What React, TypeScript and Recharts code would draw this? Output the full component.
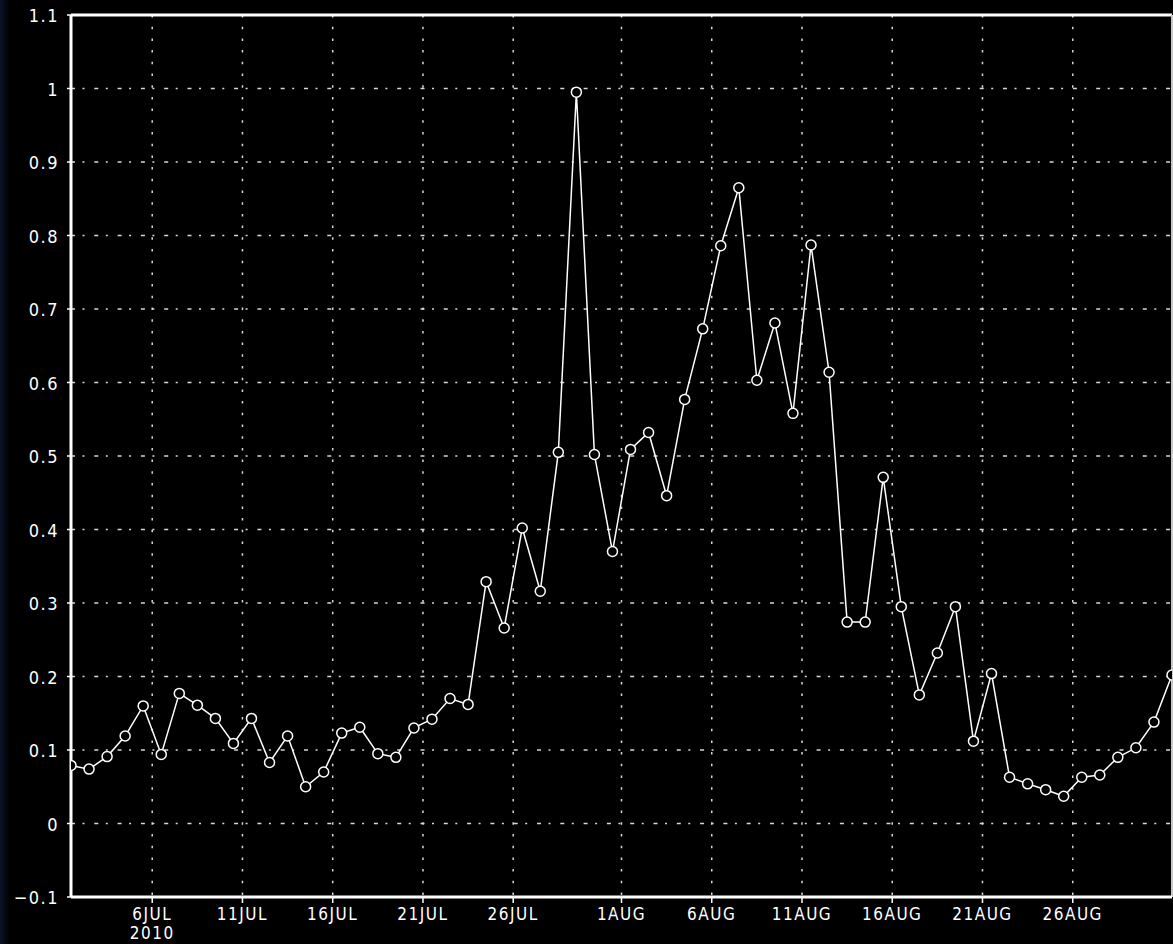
import { LineChart, Line, XAxis, YAxis, CartesianGrid, ReferenceLine } from 'recharts'

// daily values, 1 Jul 2010 .. 31 Aug 2010 (plotted at 12Z of each day)
const julyValues = [
  0.079, 0.074, 0.091, 0.119, 0.16, 0.094, 0.177, 0.161, 0.143, 0.109,
  0.143, 0.083, 0.119, 0.05, 0.07, 0.123, 0.131, 0.095, 0.09, 0.13,
  0.142, 0.17, 0.162, 0.329, 0.266, 0.402, 0.316, 0.505, 0.995, 0.502,
  0.37,
]
const augustValues = [
  0.509, 0.532, 0.446, 0.577, 0.673, 0.786, 0.865, 0.603, 0.681, 0.558,
  0.787, 0.614, 0.274, 0.274, 0.471, 0.295, 0.175, 0.232, 0.295, 0.112,
  0.204, 0.063, 0.054, 0.046, 0.037, 0.063, 0.066, 0.09, 0.103, 0.138,
  0.202,
]

// days since 1 Jul 00Z
const tickDays = [5, 10, 15, 20, 25, 31, 36, 41, 46, 51, 56]
const tickLabels = ['6JUL', '11JUL', '16JUL', '21JUL', '26JUL', '1AUG', '6AUG', '11AUG', '16AUG', '21AUG', '26AUG']
const yTicks = [-0.1, 0, 0.1, 0.2, 0.3, 0.4, 0.5, 0.6, 0.7, 0.8, 0.9, 1, 1.1]
const yearLabel = '2010'

const values = [...julyValues, ...augustValues]
const data = values.map((v, i) => ({ day: i + 0.5, value: v }))

const FONT = "'Liberation Sans Narrow', 'DejaVu Sans Condensed', sans-serif"

function YTick({ x, y, payload }: any) {
  const v = payload.value
  let label = Math.abs(v) < 1e-9 ? '0' : Math.abs(v - 1) < 1e-9 ? '1' : v.toFixed(1)
  if (v < 0) label = '\u2212' + Math.abs(v).toFixed(1)
  return (
    <text x={x} y={y} dy={7} textAnchor="end" fill="#fff" fontSize={18} fontFamily={FONT} letterSpacing={1.5}>
      {label}
    </text>
  )
}

// date label, with the year under the first one
function XTick({ x, y, payload }: any) {
  const idx = tickDays.indexOf(payload.value)
  return (
    <g>
      <text x={x} y={y} dy={15} textAnchor="middle" fill="#fff" fontSize={17} fontFamily={FONT} letterSpacing={1.5}>
        {tickLabels[idx]}
      </text>
      {idx === 0 && (
        <text x={x} y={y} dy={34} textAnchor="middle" fill="#fff" fontSize={17} fontFamily={FONT} letterSpacing={1.5}>
          {yearLabel}
        </text>
      )}
    </g>
  )
}

export default function App() {
  return (
    <div
      style={{
        position: 'fixed',
        left: 0,
        top: 0,
        width: 1173,
        height: 944,
        overflow: 'hidden',
        background: 'linear-gradient(to right, #0c1328 0px, #000 10px)',
      }}
    >
      <LineChart width={1173} height={944} data={data} margin={{ top: 15, right: 1, left: 0, bottom: 0 }}>
        <CartesianGrid vertical={false} stroke="#d8d8d8" strokeWidth={1.5} strokeDasharray="4 7.5 2 9.8" />
        <CartesianGrid horizontal={false} stroke="#d8d8d8" strokeWidth={1.5} strokeDasharray="2.5 9.2" />
        <XAxis
          type="number"
          dataKey="day"
          domain={[0.5, 61.5]}
          ticks={tickDays}
          allowDataOverflow
          height={47}
          tickSize={6}
          tickMargin={2}
          axisLine={{ stroke: '#fff', strokeWidth: 3 }}
          tickLine={{ stroke: '#fff', strokeWidth: 1.5 }}
          tick={<XTick />}
          interval={0}
        />
        <YAxis
          type="number"
          domain={[-0.1, 1.1]}
          ticks={yTicks}
          allowDataOverflow
          width={71}
          tickSize={4}
          tickMargin={8}
          axisLine={{ stroke: '#fff', strokeWidth: 3 }}
          tickLine={{ stroke: '#fff', strokeWidth: 1.5 }}
          tick={<YTick />}
          interval={0}
        />
        <ReferenceLine y={1.1} stroke="#fff" strokeWidth={3} />
        <ReferenceLine x={61.5} stroke="#c8c8c8" strokeWidth={2} />
        <Line
          type="linear"
          dataKey="value"
          stroke="#fff"
          strokeWidth={1.5}
          dot={{ r: 5, stroke: '#fff', strokeWidth: 1.5, fill: '#000' }}
          isAnimationActive={false}
        />
      </LineChart>
    </div>
  )
}
